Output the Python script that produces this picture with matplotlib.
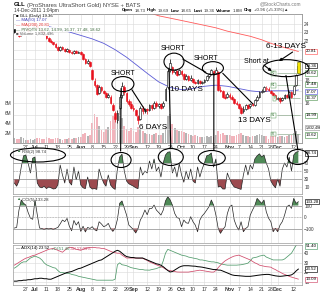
import numpy as np
import pandas as pd
import matplotlib
matplotlib.use("Agg")
import matplotlib.pyplot as plt
from matplotlib import transforms
from matplotlib.patches import Ellipse, Rectangle, ConnectionPatch

plt.rcParams['font.family'] = ['Liberation Sans', 'DejaVu Sans']

W, H = 320, 292

# trading days shown on the chart
holidays = ['2011-07-04', '2011-09-05', '2011-11-24']
dates = pd.bdate_range('2011-06-20', '2011-12-14')
dates = dates[~dates.isin(pd.to_datetime(holidays))]

# daily OHLC of GLL
opens = [23.3, 23.0, 22.7, 22.6, 23.0, 23.4, 23.5, 23.1, 23.3, 23.6,
         23.7, 23.5, 23.2, 23.0, 22.6, 22.3, 22.0, 21.8, 21.6, 21.3,
         21.0, 21.3, 21.1, 20.9, 21.0, 20.8, 20.6, 20.9, 20.7, 20.8,
         20.5, 20.0, 19.6, 19.7, 18.9, 17.9, 17.5, 16.8, 17.3, 17.0,
         16.8, 16.5, 16.5, 15.8, 15.2, 14.6, 15.6, 16.6, 17.3, 16.8,
         16.1, 15.9, 15.6, 15.4, 14.9, 14.7, 15.6, 15.3, 15.5, 15.4,
         15.8, 15.6, 16.0, 15.7, 15.9, 15.7, 16.2, 17.3, 18.9, 19.2,
         18.7, 18.8, 18.5, 18.8, 18.5, 18.1, 18.3, 18.0, 18.1, 17.8,
         17.7, 17.9, 17.7, 17.8, 18.0, 18.3, 18.5, 18.8, 18.6, 18.7,
         17.1, 17.0, 16.5, 16.5, 16.6, 16.5, 16.3, 16.0, 15.9, 15.6,
         15.3, 15.5, 15.8, 15.7, 15.9, 15.8, 16.2, 16.5, 16.9, 17.0,
         17.2, 17.2, 17.0, 16.8, 16.6, 16.3, 16.4, 16.2, 16.4, 16.6,
         16.5, 16.9, 16.7, 17.5, 18.73]
highs = [23.4, 23.1, 22.9, 23.1, 23.5, 23.7, 23.6, 23.4, 23.7, 23.9,
         23.8, 23.6, 23.3, 23.1, 22.7, 22.4, 22.2, 21.9, 21.7, 21.4,
         21.4, 21.4, 21.2, 21.2, 21.1, 20.9, 21.0, 21.0, 20.9, 20.9,
         20.6, 20.1, 20.0, 19.8, 19.0, 18.2, 17.6, 17.5, 17.4, 17.1,
         16.9, 16.8, 16.6, 16.0, 15.3, 15.4, 16.7, 17.8, 17.5, 16.9,
         16.3, 16.1, 15.8, 15.5, 15.0, 15.7, 15.7, 15.6, 15.6, 15.9,
         15.9, 16.1, 16.1, 16.0, 16.0, 16.1, 17.3, 19.0, 20.0, 19.3,
         19.0, 18.9, 19.0, 18.9, 18.6, 18.5, 18.4, 18.4, 18.2, 17.9,
         18.1, 18.0, 17.9, 18.1, 18.4, 18.6, 19.0, 18.9, 19.2, 18.8,
         17.4, 17.1, 16.7, 16.9, 16.8, 16.6, 16.4, 16.1, 16.0, 15.7,
         15.7, 15.9, 15.9, 16.0, 16.0, 16.3, 16.6, 17.0, 17.2, 17.4,
         17.4, 17.3, 17.1, 16.9, 16.7, 16.5, 16.5, 16.5, 16.7, 16.7,
         17.0, 17.0, 17.5, 18.5, 19.69]
lows = [22.9, 22.6, 22.4, 22.5, 22.9, 23.3, 23.0, 23.0, 23.2, 23.5,
        23.4, 23.1, 22.9, 22.6, 22.2, 21.9, 21.7, 21.5, 21.2, 20.9,
        20.9, 21.0, 20.8, 20.8, 20.6, 20.5, 20.5, 20.6, 20.6, 20.4,
        19.9, 19.5, 19.5, 19.2, 18.0, 17.3, 16.6, 16.7, 16.9, 16.7,
        16.4, 16.4, 15.9, 15.3, 14.5, 14.4, 15.5, 16.4, 16.6, 16.0,
        15.7, 15.5, 15.3, 14.9, 14.3, 14.6, 15.1, 15.2, 15.1, 15.3,
        15.4, 15.5, 15.6, 15.6, 15.5, 15.6, 16.1, 17.2, 18.7, 18.5,
        18.5, 18.3, 18.4, 18.3, 18.0, 18.0, 17.9, 17.9, 17.7, 17.6,
        17.6, 17.6, 17.6, 17.7, 17.9, 18.2, 18.4, 18.4, 18.5, 17.0,
        16.9, 16.4, 16.3, 16.4, 16.3, 16.2, 15.9, 15.8, 15.5, 15.1,
        15.2, 15.4, 15.5, 15.6, 15.7, 15.7, 16.1, 16.4, 16.8, 16.9,
        17.0, 17.0, 16.7, 16.5, 16.2, 16.2, 16.0, 16.1, 16.3, 16.4,
        16.4, 16.4, 16.6, 17.4, 18.65]
closes = [23.0, 22.7, 22.5, 23.0, 23.4, 23.5, 23.1, 23.3, 23.6, 23.8,
          23.5, 23.2, 23.0, 22.7, 22.3, 22.0, 21.8, 21.6, 21.3, 21.0,
          21.3, 21.1, 20.9, 21.1, 20.8, 20.6, 20.9, 20.7, 20.8, 20.5,
          20.0, 19.6, 19.8, 19.3, 18.1, 17.5, 16.7, 17.3, 17.1, 16.8,
          16.5, 16.6, 16.0, 15.4, 14.7, 15.2, 16.5, 17.4, 16.9, 16.1,
          15.9, 15.6, 15.5, 15.0, 14.6, 15.6, 15.3, 15.5, 15.4, 15.8,
          15.6, 16.0, 15.7, 15.9, 15.6, 16.0, 17.2, 18.8, 19.6, 18.7,
          18.9, 18.4, 18.9, 18.5, 18.1, 18.3, 18.0, 18.2, 17.8, 17.7,
          18.0, 17.7, 17.8, 18.0, 18.3, 18.5, 18.9, 18.5, 18.9, 17.1,
          17.0, 16.5, 16.4, 16.7, 16.5, 16.3, 16.0, 15.9, 15.6, 15.2,
          15.5, 15.8, 15.6, 15.9, 15.8, 16.2, 16.5, 16.9, 17.0, 17.3,
          17.2, 17.1, 16.8, 16.6, 16.3, 16.4, 16.1, 16.4, 16.6, 16.5,
          16.9, 16.5, 17.4, 18.4, 19.36]
# volume, millions of shares
volume = [1.0, 0.8, 0.9, 1.2, 1.0, 0.7, 0.6, 0.8, 0.7, 0.9,
          1.1, 1.0, 0.8, 0.9, 1.2, 1.0, 0.9, 0.8, 1.0, 1.1,
          0.8, 0.7, 0.9, 0.8, 1.0, 0.9, 1.1, 1.0, 1.2, 1.3,
          1.8, 2.0, 1.5, 1.6, 4.0, 5.8, 5.2, 3.5, 2.6, 2.2,
          2.8, 3.2, 4.5, 5.5, 5.2, 6.0, 7.5, 5.0, 3.5, 2.8,
          2.5, 3.0, 2.4, 2.2, 3.2, 2.8, 2.4, 2.0, 1.8, 1.9,
          1.6, 1.8, 2.0, 1.7, 1.6, 2.0, 3.5, 5.5, 5.8, 3.8,
          3.0, 2.6, 2.4, 2.4, 2.2, 2.0, 1.8, 1.7, 1.5, 1.6,
          1.4, 1.3, 1.2, 1.2, 1.4, 1.3, 1.5, 1.3, 1.6, 2.4,
          1.9, 2.1, 1.7, 1.6, 1.7, 1.5, 1.4, 1.6, 1.8, 2.0,
          1.7, 1.5, 1.4, 1.3, 1.4, 1.5, 1.6, 1.8, 1.7, 1.5,
          1.4, 0.9, 1.5, 1.4, 1.6, 1.3, 1.5, 1.4, 1.3, 1.5,
          1.6, 1.7, 2.0, 2.4, 1.83]

# moving averages
ma50_dates = ['2011-07-11', '2011-07-18', '2011-07-25', '2011-08-01', '2011-08-08',
              '2011-08-15', '2011-08-22', '2011-08-29', '2011-09-06', '2011-09-12',
              '2011-09-19', '2011-09-26', '2011-10-03', '2011-10-10', '2011-10-17',
              '2011-10-24', '2011-10-31', '2011-11-07', '2011-11-14', '2011-11-21',
              '2011-11-28', '2011-12-05', '2011-12-12', '2011-12-14']
ma50_vals = [23.7, 23.4, 23.0, 22.6, 22.2, 21.7, 21.0, 20.2, 19.3, 18.6,
             17.8, 17.3, 17.1, 17.2, 17.4, 17.5, 17.4, 17.2, 17.0, 16.9,
             17.0, 17.0, 17.0, 17.07]
ma200_dates = ['2011-08-29', '2011-09-06', '2011-09-12', '2011-09-19', '2011-09-26',
               '2011-10-03', '2011-10-10', '2011-10-17', '2011-10-24', '2011-10-31',
               '2011-11-07', '2011-11-14', '2011-11-21', '2011-11-28', '2011-12-05',
               '2011-12-12', '2011-12-14']
ma200_vals = [26.5, 26.0, 25.5, 25.0, 24.7, 24.4, 24.1, 23.8, 23.5, 23.1,
              22.8, 22.5, 22.1, 21.7, 21.3, 20.95, 20.81]

# December pivot levels
pivot_names = ['S2', 'S1', 'P', 'R1', 'R2']
pivot_vals = [13.62, 14.99, 16.37, 17.48, 18.62]

rsi = [20, 12, 25, 60, 88, 90, 70, 45, 82, 85,
       20, 10, 8, 12, 6, 10, 8, 5, 6, 15,
       65, 40, 20, 55, 22, 15, 60, 28, 50, 15,
       8, 6, 35, 10, 5, 6, 4, 55, 35, 20,
       12, 40, 15, 8, 4, 55, 85, 92, 50, 25,
       18, 15, 12, 8, 6, 60, 40, 50, 45, 75,
       55, 80, 50, 60, 35, 70, 90, 97, 98, 45,
       60, 35, 68, 40, 22, 50, 30, 55, 25, 20,
       60, 35, 55, 70, 88, 90, 95, 60, 80, 10,
       12, 5, 5, 45, 30, 18, 10, 8, 6, 4,
       40, 65, 40, 65, 55, 80, 88, 93, 85, 90,
       70, 55, 25, 15, 8, 30, 12, 55, 70, 60,
       85, 50, 90, 97, 98.74]
cci = [-96, -90, 60, 148, 120, 104, 40, -9, -20, 148,
       20, -96, -100, -110, -99, -105, -99, -110, -99, -90,
       -60, -26, -40, -12, -80, -120, -30, -70, -41, -125,
       -80, -130, -90, -100, -84, -110, -120, -41, -60, -84,
       -75, -55, -100, -125, -99, -20, 120, 140, 78, 17,
       -70, -90, -110, -139, -100, -26, 10, 61, 20, 75,
       75, 104, 61, 40, 17, 60, 140, 177, 150, 104,
       32, -5, -12, -84, -26, -50, -55, 3, -41, -70,
       -128, -26, 10, 32, 61, 90, 148, 104, 17, -99,
       -142, -110, -84, 30, 90, 104, -26, -80, -113, -41,
       -128, -100, -84, 17, 61, 100, 162, 140, 119, 148,
       46, -10, -41, -128, -99, -128, -70, -40, 17, 90,
       104, 75, 162, 119, 133.28]
adx = [11, 11, 11.5, 11.5, 12, 12, 12.5, 12.5, 13, 13.5,
       13.5, 14, 14, 13.5, 13.5, 13, 13, 14, 15, 16,
       17, 18, 19, 20, 20.5, 21, 22, 23, 24, 24.5,
       25.5, 26.5, 27.5, 28.5, 29.5, 30.5, 31.5, 32.5, 33, 34.5,
       36, 37.5, 39, 40.5, 42, 43, 42, 40, 38, 36.5,
       36, 35.5, 35.5, 35, 35, 35, 35, 34, 33, 32,
       31, 30, 29, 28.5, 27.5, 26, 24, 22, 20.5, 21,
       22.5, 24, 25.5, 26.5, 27, 27, 27, 26.8, 26.6, 26.5,
       26, 25.8, 25.5, 25, 24.5, 24, 23.5, 23, 23, 22.5,
       22.4, 21.5, 20.5, 19.5, 18.5, 17.5, 17, 16.8, 16.6, 16.4,
       16.2, 16, 16, 16, 16.3, 16.6, 17, 17.3, 17.6, 17.8,
       18, 18, 17.5, 17, 16.5, 16.2, 16, 16.2, 16.5, 16.8,
       17, 17.5, 19, 21.5, 23.52]
plus_di = [24.5, 26, 28, 30, 31, 31, 33, 35, 36, 37,
           36, 35, 33, 30, 28, 27, 26, 25, 24.5, 22,
           20, 20, 19.5, 19, 19, 18, 17.5, 17, 16, 15.5,
           15, 14.5, 14, 13.5, 13, 12.5, 12, 12, 12, 12,
           12, 12, 12, 12, 13, 28, 30, 28, 27.6, 27,
           26, 25, 24.5, 24, 23.5, 23, 23, 22.5, 22.5, 22.4,
           23, 23.5, 24, 25, 25.5, 32, 40, 44, 43, 42,
           41, 40, 39, 38, 37.5, 37, 36, 35.5, 35, 34.5,
           34, 33, 33, 32.5, 32, 31.5, 31, 31, 30.5, 30,
           29, 28.5, 28, 27.6, 27.6, 27.6, 27.6, 27.6, 27.8, 28,
           28.5, 29, 29.7, 32, 35, 35.5, 36, 37, 37.5, 38,
           36, 35, 34, 33, 33, 33, 33, 33, 34, 36,
           38, 40, 44, 48, 51.40]
minus_di = [27.6, 29, 30.5, 32, 33.5, 34.8, 35.5, 36.5, 37.5, 38,
            39, 40, 41, 42, 43, 44, 44.5, 45, 44, 43,
            42, 41, 43, 45, 46, 46, 45, 44, 43.5, 43,
            44, 45, 45.5, 46, 46, 46, 45.5, 45.5, 45, 45,
            44, 43, 42, 41, 40.5, 40, 40, 38, 36.5, 35,
            35, 35, 35, 35, 34.8, 34.8, 34.8, 33.5, 32.5, 31,
            30, 29, 28, 27, 26, 25, 23.5, 22.4, 22, 21.5,
            21, 20.5, 20.4, 20.4, 20.4, 20.4, 20.4, 20.8, 21.2, 21.6,
            22, 22.4, 22, 21.6, 21.2, 20.8, 20.4, 20.4, 22, 25,
            27.6, 30, 32, 33.5, 34.8, 36, 37, 37.5, 38, 37,
            36, 35, 34, 33, 31.5, 30, 29, 27.6, 27, 26.5,
            26, 25.8, 25.5, 24, 23, 21.5, 20.4, 19, 18, 17,
            16, 15.2, 14.5, 13.8, 13.09]

tick_dates = ['2011-06-27', '2011-07-01', '2011-07-11', '2011-07-18', '2011-07-25',
              '2011-08-01', '2011-08-08', '2011-08-15', '2011-08-22', '2011-08-29',
              '2011-09-01', '2011-09-12', '2011-09-19', '2011-09-26', '2011-10-03',
              '2011-10-10', '2011-10-17', '2011-10-24', '2011-11-01', '2011-11-07',
              '2011-11-14', '2011-11-21', '2011-11-28', '2011-12-01', '2011-12-12']
tick_labels = ['27', 'Jul', '11', '18', '25', 'Aug', '8', '15', '22', '29',
               'Sep', '12', '19', '26', 'Oct', '10', '17', '24', 'Nov', '7',
               '14', '21', '28', 'Dec', '12']
months = {'Jul', 'Aug', 'Sep', 'Oct', 'Nov', 'Dec'}
# price axis: grid at every dollar, numbers only where no value tag covers them
price_grid = list(range(13, 25))
price_labels = [16, 18, 22, 23, 24]


def loc(d):
    return dates.get_loc(pd.Timestamp(d))


def px_rect(x0, y0, x1, y1):
    return [x0 / W, 1 - y1 / H, (x1 - x0) / W, (y1 - y0) / H]


x = np.arange(len(dates))
o, hi, lo, c = map(np.array, (opens, highs, lows, closes))
prev = np.r_[c[0], c[:-1]]
RED = '#e8101c'
col = np.where(c >= prev, 'black', RED)
tick_pos = [loc(d) for d in tick_dates]
grid_c = '#d9d9d9'
frame_c = '#9a9a9a'
fs = 3.8
GREEN_BOX = '#5a9a5a'

fig = plt.figure(figsize=(W / 100, H / 100), dpi=100)
fig.patch.set_facecolor('white')
renderer = fig.canvas.get_renderer()


def style(ax, labels=False):
    ax.set_xlim(-0.6, 125.6)
    ax.set_xticks(tick_pos)
    ax.grid(True, color=grid_c, lw=0.4)
    ax.set_axisbelow(True)
    for s in ax.spines.values():
        s.set_color(frame_c)
        s.set_linewidth(0.5)
    ax.tick_params(length=0, pad=1.2, labelsize=fs, colors='#333333')
    if labels:
        ax.set_xticklabels(tick_labels)
        for t in ax.get_xticklabels():
            if t.get_text() in months:
                t.set_fontweight('bold')
    else:
        ax.tick_params(axis='x', labelbottom=False)


def side_box(ax, yv, text, ec, size=3.2, dy=0.0):
    # value tag just right of the panel; dy nudges it in pixels
    tr = transforms.blended_transform_factory(ax.transAxes, ax.transData)
    tr = tr + transforms.ScaledTranslation(0, -dy / 100, fig.dpi_scale_trans)
    ax.text(1.012, yv, text, transform=tr, fontsize=size, color='black', va='center', ha='left',
            bbox=dict(boxstyle='square,pad=0.14', fc='white', ec=ec, lw=0.45), zorder=10,
            clip_on=False)


def text_row(x0, y0, parts, size):
    # consecutive pieces of text on one line, each in its own colour / weight
    xp = x0
    for t, cl, wt in parts:
        tx = fig.text(xp / W, 1 - y0 / H, t, fontsize=size, color=cl, fontweight=wt,
                      va='center', ha='left')
        bb = tx.get_window_extent(renderer)
        xp = bb.x1 + 1.5


# ---------------- price panel ----------------
ax_vol = fig.add_axes(px_rect(13, 14, 302, 143))
ax = fig.add_axes(px_rect(13, 14, 302, 143))
ax.set_zorder(ax_vol.get_zorder() + 1)
ax.patch.set_visible(False)

vol_col = np.where(c >= prev, '#b4b4b4', '#f2b4bc')
ax_vol.bar(x, volume, width=0.78, color=vol_col, edgecolor='none')
ax_vol.set_ylim(0, 25.8)
ax_vol.set_yticks([2, 4, 6, 8])
ax_vol.set_yticklabels(['2M', '4M', '6M', '8M'])
style(ax_vol, labels=True)
ax_vol.grid(False)
ax_vol.tick_params(axis='y', labelsize=3.4, pad=1)

ax.set_yscale('log')
ax.set_ylim(13.25, 25.23)
ax.yaxis.tick_right()
ax.set_yticks(price_grid)
ax.set_yticklabels([str(v) if v in price_labels else '' for v in price_grid])
ax.yaxis.set_minor_locator(matplotlib.ticker.NullLocator())
style(ax)
ax.tick_params(axis='y', labelsize=3.4, pad=1.5)

ax.vlines(x, lo, hi, colors=col, lw=0.5, zorder=3)
body_lo = np.minimum(o, c)
body_h = np.maximum(np.abs(c - o), 0.03)
face = [cc if cl < op else 'white' for cc, cl, op in zip(col, c, o)]
ax.bar(x, body_h, bottom=body_lo, width=0.75, color=face, edgecolor=col, lw=0.4, zorder=4)

ax.plot([loc(d) for d in ma50_dates], ma50_vals, color='#5b5bd6', lw=0.6, zorder=2)
ax.plot([loc(d) for d in ma200_dates], ma200_vals, color='#ff5a5a', lw=0.6, zorder=2)

pv0 = loc('2011-12-01') - 0.5
for name, v in zip(pivot_names, pivot_vals):
    ax.hlines(v, pv0, len(x) - 0.4, color='#8aa88a', lw=0.45, zorder=2)
    ax.text(pv0 - 0.4, v, name, fontsize=2.6, color='#3d7a3d', ha='right', va='center',
            bbox=dict(boxstyle='square,pad=0.12', fc='white', ec=GREEN_BOX, lw=0.35), zorder=5)

# highlighted last bar
ax.add_patch(Rectangle((len(x) - 1.6, lows[-1]), 1.2, highs[-1] - lows[-1],
                       fc='#f5e400', ec='#7a7a00', lw=0.4, zorder=6))

side_box(ax, ma200_vals[-1], '20.81', '#ff5a5a')
side_box(ax, closes[-1], '19.36', 'black')
side_box(ax, pivot_vals[4], '18.62', GREEN_BOX)
side_box(ax, pivot_vals[3], '17.48', GREEN_BOX, dy=-1.2)
side_box(ax, ma50_vals[-1], '17.07', '#5b5bd6', dy=1.5)
side_box(ax, pivot_vals[2], '16.37', GREEN_BOX, dy=-0.3)
side_box(ax, pivot_vals[1], '14.99', GREEN_BOX)
side_box(ax, 14.1, '1,832,496', '#999999', size=2.5)
side_box(ax, pivot_vals[0], '13.62', GREEN_BOX, dy=1)

# legend rows
leg = [('\u25a0 GLL (Daily) 19.36', 'black'), ('\u2014 MA(50) 17.07', '#3b3bb6'),
       ('\u2014 MA(200) 20.81', '#e03030'),
       ('\u2014 PIVOTS 13.62, 14.99, 16.37, 17.48, 18.62', '#3d6a3d'),
       ('\u25a0 Volume 1,832,496', '#555555')]
for k, (t, cl) in enumerate(leg):
    fig.text(16 / W, 1 - (16 + 4.5 * k) / H, t, fontsize=3.1, color=cl, va='center', ha='left',
             bbox=dict(boxstyle='square,pad=0.04', fc='white', ec='none', alpha=0.92), zorder=20)

# ---------------- RSI ----------------
ax_r = fig.add_axes(px_rect(13, 148, 302, 194))
r = np.array(rsi, dtype=float)
ax_r.plot(x, r, color='#222222', lw=0.5)
ax_r.fill_between(x, 70, r, where=r > 70, interpolate=True, color='#4f8a57', lw=0)
ax_r.fill_between(x, 30, r, where=r < 30, interpolate=True, color='#9c4a4f', lw=0)
ax_r.axhline(70, color='#888888', lw=0.45)
ax_r.axhline(30, color='#888888', lw=0.45)
ax_r.axhline(50, color='#aaaaaa', lw=0.4, ls=(0, (3, 2)))
ax_r.set_ylim(-7.5, 107.5)
ax_r.yaxis.tick_right()
ax_r.set_yticks([10, 30, 50, 70, 90])
ax_r.set_yticklabels(['10', '30', '50', '70', ''])
style(ax_r)
ax_r.tick_params(axis='y', labelsize=3.4, pad=1.5)
side_box(ax_r, 95, '98.74', 'black')
text_row(16, 151.5, [('\u25b2', '#3f7a4a', 'normal'), ('RSI(2) 98.74', '#333333', 'normal')], 3.1)

# ---------------- CCI ----------------
ax_c = fig.add_axes(px_rect(13, 196, 302, 243))
cv = np.array(cci, dtype=float)
ax_c.plot(x, cv, color='#222222', lw=0.5)
ax_c.fill_between(x, 100, cv, where=cv > 100, interpolate=True, color='#4f8a57', lw=0)
ax_c.fill_between(x, -100, cv, where=cv < -100, interpolate=True, color='#9c4a4f', lw=0)
ax_c.axhline(100, color='#888888', lw=0.45)
ax_c.axhline(-100, color='#888888', lw=0.45)
ax_c.axhline(0, color='#aaaaaa', lw=0.4, ls=(0, (3, 2)))
ax_c.set_ylim(-226, 183)
ax_c.yaxis.tick_right()
ax_c.set_yticks([-100, 0, 100])
style(ax_c)
ax_c.tick_params(axis='y', labelsize=3.4, pad=1.5)
side_box(ax_c, 133.28, '133.28', 'black')
text_row(16, 199.5, [('\u25b2', '#3f7a4a', 'normal'), ('CCI(5) 133.28', '#333333', 'normal')], 3.1)

# ---------------- ADX ----------------
ax_a = fig.add_axes(px_rect(13, 245, 302, 285))
ax_a.plot(x, plus_di, color='#4f9a6a', lw=0.55)
ax_a.plot(x, minus_di, color='#d04a6a', lw=0.55)
ax_a.plot(x, adx, color='black', lw=0.7)
ax_a.set_ylim(7, 48.5)
ax_a.yaxis.tick_right()
ax_a.set_yticks([10, 20, 30, 40])
style(ax_a, labels=True)
ax_a.tick_params(axis='y', labelsize=3.4, pad=1.5)
side_box(ax_a, 47.5, '51.40', '#4f9a6a')
side_box(ax_a, adx[-1], '23.52', 'black')
side_box(ax_a, minus_di[-1], '13.09', '#d04a6a')
text_row(16, 248.5, [('\u2014 ADX(14) 23.52', 'black', 'normal'),
                     ('+DI 51.40', '#3f8a5a', 'normal'),
                     ('-DI 13.09%', '#c03a5a', 'normal')], 3.1)

# ---------------- header ----------------
text_row(14, 5, [('GLL', 'black', 'bold'),
                 ('(ProShares UltraShort Gold) NYSE + BATS', '#444444', 'normal')], 4.2)
fig.text(301 / W, 1 - 4 / H, '@StockCharts.com', fontsize=3.4, color='#777777',
         va='center', ha='right')
fig.text(14 / W, 1 - 10.5 / H, '14-Dec-2011 1:04pm', fontsize=3.4, color='#333333',
         va='center', ha='left')
text_row(122, 10.5, [('Open', 'black', 'bold'), ('18.73', '#333333', 'normal'),
                     ('High', 'black', 'bold'), ('19.69', '#333333', 'normal'),
                     ('Low', 'black', 'bold'), ('18.65', '#333333', 'normal'),
                     ('Last', 'black', 'bold'), ('19.36', '#333333', 'normal'),
                     ('Volume', 'black', 'bold'), ('1.8M', '#333333', 'normal'),
                     ('Chg', 'black', 'bold'), ('+0.96 (+5.33%)\u25b2', '#333333', 'normal')], 3.2)

# ---------------- hand annotations ----------------
def ell(axis, cx, cy, wpx, hpx):
    tr = fig.dpi_scale_trans + transforms.ScaledTranslation(cx, cy, axis.transData)
    axis.add_patch(Ellipse((0, 0), wpx / 100, hpx / 100, transform=tr, fill=False,
                           ec='black', lw=0.8, zorder=12, clip_on=False))


def link(axA, pA, axB, pB, arrow=False):
    cp = ConnectionPatch(xyA=pA, coordsA=axA.transData, xyB=pB, coordsB=axB.transData,
                         color='black', lw=0.8, zorder=15,
                         arrowstyle='-|>' if arrow else '-', mutation_scale=4)
    fig.add_artist(cp)


note_fs = 5.0
days_fs = 5.9
# short 1
ell(ax, 47.4, 17.6, 22, 15)
ax.text(47.4, 18.6, 'SHORT', fontsize=note_fs, ha='center', va='center', zorder=12)
link(ax, (51.3, 17.1), ax, (57.4, 15.3))
ax.text(60.5, 14.1, '6 DAYS', fontsize=days_fs, ha='center', va='center', zorder=12)
link(ax, (46.6, 17.2), ax_r, (46.4, 100))
ell(ax_r, 46.6, 77.5, 20, 15)
# short 2
ell(ax, 69.7, 19.75, 20, 17)
ax.text(69.2, 21.1, 'SHORT', fontsize=note_fs, ha='center', va='center', zorder=12)
link(ax, (73.6, 20.0), ax, (83.6, 18.7))
ax.text(75.3, 17.1, '10 DAYS', fontsize=days_fs, ha='center', va='center', zorder=12)
link(ax, (67.5, 19.1), ax_r, (68.3, 106))
ell(ax_r, 68.3, 85, 25, 17)
# short 3
ell(ax, 86.7, 19.1, 21, 13)
ax.text(83.6, 20.1, 'SHORT', fontsize=note_fs, ha='center', va='center', zorder=12)
link(ax, (91, 18.6), ax, (104.1, 15.9))
ax.text(104.6, 14.6, '13 DAYS', fontsize=days_fs, ha='center', va='center', zorder=12)
link(ax, (87.1, 18.6), ax_r, (87.1, 102.5))
ell(ax_r, 86.2, 82.5, 27, 15)
# short at
ell(ax, 118.6, 19.1, 46, 17)
ax.text(105.5, 19.75, 'Short at', fontsize=note_fs, ha='center', va='center', zorder=12)
link(ax, (109, 19.4), ax, (112.4, 18.8), arrow=True)
ax.text(118.6, 21.3, '6-13 DAYS', fontsize=days_fs, ha='center', va='center', zorder=12)
link(ax, (121.5, 20.75), ax, (115.5, 19.8), arrow=True)
link(ax, (118.6, 18.4), ax_r, (123.8, 102.5))
ell(ax_r, 123.8, 85, 21, 15)
ell(ax_r, 10.3, 90, 55, 14)

fig.savefig('out.png', dpi=100, facecolor='white')
